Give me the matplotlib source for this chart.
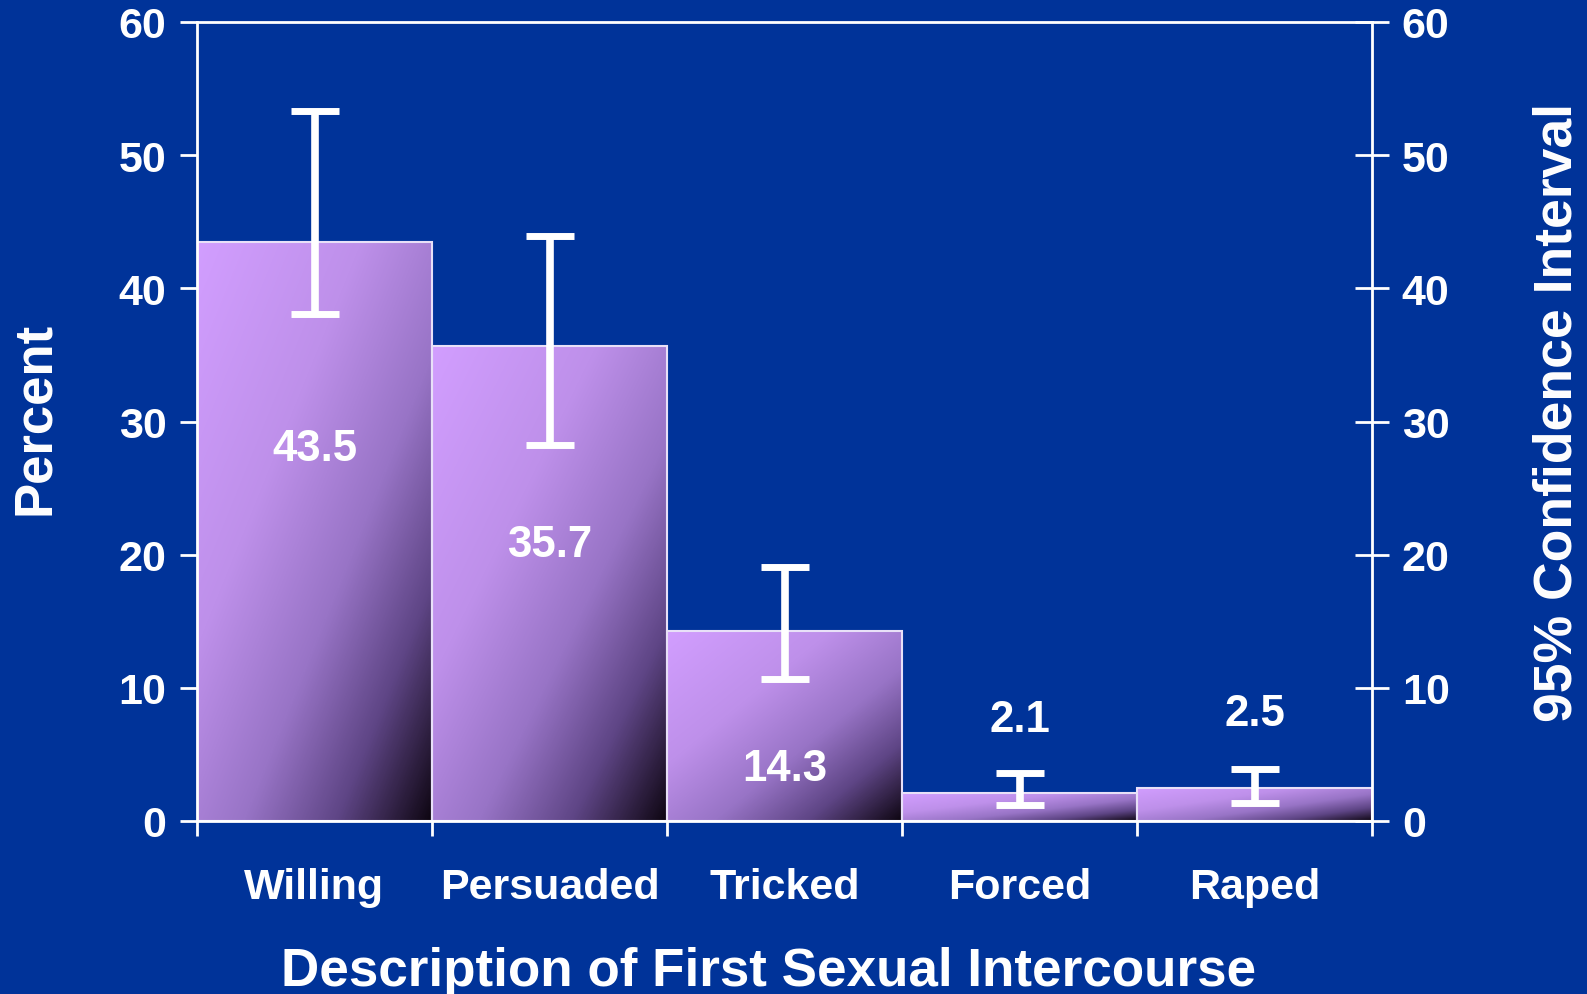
import numpy as np
import matplotlib
matplotlib.use("Agg")
import matplotlib.pyplot as plt
from matplotlib.colors import LinearSegmentedColormap

categories = ["Willing", "Persuaded", "Tricked", "Forced", "Raped"]
percent = [43.5, 35.7, 14.3, 2.1, 2.5]
ci_low = [38.1, 28.2, 10.7, 1.2, 1.35]
ci_high = [53.3, 43.9, 19.1, 3.6, 3.9]
value_labels = ["43.5", "35.7", "14.3", "2.1", "2.5"]
label_y = [27.95, 20.75, 3.95, 7.65, 8.05]
yticks = [0, 10, 20, 30, 40, 50, 60]

BG = "#003399"
W, H = 1587, 995
plt.rcParams['font.family'] = ['Liberation Sans', 'DejaVu Sans']
plt.rcParams['font.weight'] = 'bold'

fig = plt.figure(figsize=(W / 100, H / 100), dpi=100, facecolor=BG)
ax = fig.add_axes([197 / W, (H - 822) / H, (1372 - 197) / W, (822 - 23) / H])
ax.set_facecolor(BG)
ax.set_xlim(-0.5, 4.5)
ax.set_ylim(0, 60)

cmap = LinearSegmentedColormap.from_list(
    "bar", [(0.0, "#D29EFF"), (0.35, "#BE90EA"), (0.6, "#9874C6"),
            (0.8, "#5E4585"), (1.0, "#0E0612")])
nx, ny = 200, 200
u = np.linspace(0, 1, nx)[None, :]
v = np.linspace(0, 1, ny)[:, None]  # 0 top -> 1 bottom
grad = (u + v) / 2.0

for i, val in enumerate(percent):
    ax.imshow(grad, cmap=cmap, vmin=0, vmax=1, aspect='auto',
              extent=(i - 0.5, i + 0.5, 0, val), origin='upper', zorder=1,
              interpolation='bilinear')
bars = ax.bar(range(len(categories)), percent, width=1.0, facecolor='none',
              edgecolor='#E8E0F8', linewidth=1.5, zorder=2)

yerr = [np.array(percent) - np.array(ci_low), np.array(ci_high) - np.array(percent)]
ax.errorbar(range(len(categories)), percent, yerr=yerr, fmt='none',
            ecolor='white', elinewidth=5.5, capsize=17.3, capthick=5, zorder=3)

for i, (t, y) in enumerate(zip(value_labels, label_y)):
    ax.text(i, y, t, color='white', fontsize=31.5, fontweight='bold',
            ha='center', va='center', zorder=4)

for s in ax.spines.values():
    s.set_color('white')
    s.set_linewidth(2)

ax.set_yticks(yticks)
ax.set_yticklabels([str(t) for t in yticks])
ax.tick_params(axis='y', direction='out', length=12, width=2, color='white',
               labelcolor='white', labelsize=31, pad=10)
ax.set_xticks(range(len(categories)))
ax.set_xticklabels(categories)
ax.set_xticks(np.arange(-0.5, 5.0, 1.0), minor=True)
ax.tick_params(axis='x', which='major', length=0, labelcolor='white',
               labelsize=31, pad=33)
ax.tick_params(axis='x', which='minor', direction='out', length=11, width=2,
               color='white')
for lab in ax.get_xticklabels():
    lab.set_x(lab.get_position()[0])

ax2 = ax.twinx()
ax2.set_ylim(0, 60)
ax2.set_yticks(yticks)
ax2.set_yticklabels([str(t) for t in yticks])
ax2.tick_params(axis='y', direction='inout', length=25, width=2, color='white',
                labelcolor='white', labelsize=31, pad=9)
for s in ax2.spines.values():
    s.set_visible(False)

for lab in ax.get_xticklabels() + ax.get_yticklabels() + ax2.get_yticklabels():
    lab.set_fontweight('bold')

fig.text(35 / W, 1 - 418 / H, "Percent", rotation=90, color='white',
         fontsize=38, fontweight='bold', ha='center', va='center')
fig.text(1558 / W, 1 - 413 / H, "95% Confidence Interval", rotation=90,
         color='white', fontsize=38.5, fontweight='bold', ha='center', va='center')
fig.text(769 / W, 1 - 972 / H, "Description of First Sexual Intercourse",
         color='white', fontsize=38.2, fontweight='bold', ha='center', va='center')

fig.savefig("out.png", dpi=100, facecolor=BG)
